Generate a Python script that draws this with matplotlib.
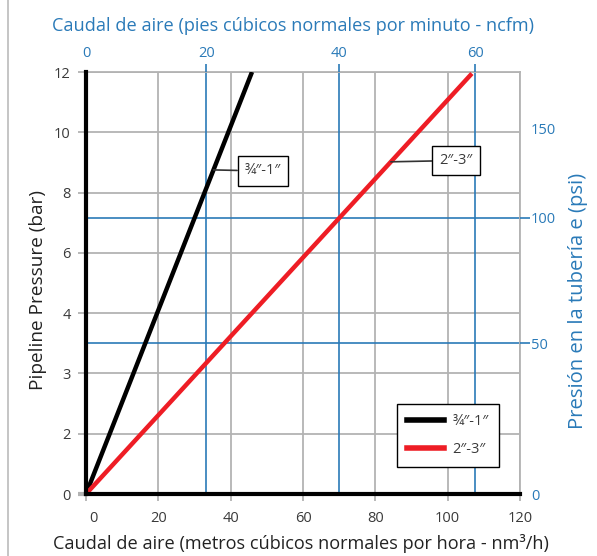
import numpy as np
import matplotlib
matplotlib.use("Agg")
import matplotlib.pyplot as plt
from matplotlib.lines import Line2D
from matplotlib.transforms import ScaledTranslation

plt.rcParams['font.family'] = ['Open Sans', 'DejaVu Sans']

# ---- data ----
series_names = ["\u00be\u2033-1\u2033", "2\u2033-3\u2033"]
flow_nm3h_black = [0, 45.9]      # m3/h
pressure_bar_black = [0, 12]
flow_nm3h_red = [0, 106.7]
pressure_bar_red = [0, 11.95]

bar_ticks = [0, 2, 3, 4, 6, 8, 10, 12]          # left axis labels (evenly spaced)
x_ticks = [0, 20, 40, 60, 80, 100, 120]
psi_labels = [0, 50, 100, 150]
psi_pos_bar = [0, 3.5, 7.16, 10.14]             # where psi ticks sit on bar axis
cfm_labels = [0, 20, 40, 60]
cfm_pos_nm3h = [0, 33.3, 70.0, 107.6]           # where cfm ticks sit on flow axis

BLUE = "#2a7ab8"
GREY = "#b3b3b3"
TXT = "#3a3a3a"
RED = "#ee1d25"

pos = np.arange(len(bar_ticks))
def fwd(v):
    return np.interp(v, bar_ticks, pos)
def inv(p):
    return np.interp(p, pos, bar_ticks)

W, H = 597, 556
fig = plt.figure(figsize=(W/100, H/100), dpi=100)
ax = fig.add_axes([86/W, 1-494/H, 434/W, 422/H])
ax.set_yscale('function', functions=(fwd, inv))
ax.set_xlim(0, 120)
ax.set_ylim(0, 12)

# grey grid
for xv in x_ticks[1:]:
    ax.axvline(xv, color=GREY, lw=1.3, zorder=1)
for yv in bar_ticks[1:]:
    ax.axhline(yv, color=GREY, lw=1.3, zorder=1)
# blue grid
for xv in cfm_pos_nm3h[1:]:
    ax.axvline(xv, color=BLUE, lw=1.2, zorder=1.5)
for yv in psi_pos_bar[1:3]:
    ax.axhline(yv, color=BLUE, lw=1.2, zorder=1.5)

ax.plot(flow_nm3h_black, pressure_bar_black, color='black', lw=3.2, zorder=3,
        solid_capstyle='butt')
ax.plot(flow_nm3h_red, pressure_bar_red, color=RED, lw=3.2, zorder=3,
        solid_capstyle='butt')

ax.set_xticks(x_ticks)
ax.set_xticklabels([str(v) for v in x_ticks])
ax.set_yticks(bar_ticks)
ax.set_yticklabels([str(v) for v in bar_ticks])
ax.tick_params(axis='y', length=6, width=1.3, color=GREY, labelsize=10.5,
               labelcolor=TXT, pad=5)
ax.tick_params(axis='x', length=5, width=1.3, color=GREY, labelsize=10.5,
               labelcolor=TXT, pad=7)
ax.yaxis.get_major_ticks()[0].tick1line.set_color('black')
ax.yaxis.get_major_ticks()[0].tick1line.set_markeredgewidth(3)
lab0 = ax.get_xticklabels()[0]
lab0.set_transform(lab0.get_transform() + ScaledTranslation(7/100, 0, fig.dpi_scale_trans))

for s in ['left', 'bottom']:
    ax.spines[s].set_color('black')
    ax.spines[s].set_linewidth(3)
for s in ['top', 'right']:
    ax.spines[s].set_color(GREY)
    ax.spines[s].set_linewidth(1.3)
ax.spines['left'].set_zorder(4)
ax.spines['bottom'].set_zorder(4)

ax.set_ylabel("Pipeline Pressure (bar)", fontsize=13.7, color='#222222')
ax.yaxis.set_label_coords((47-86)/434, (494-290)/422)
ax.set_xlabel("Caudal de aire (metros c\u00fabicos normales por hora - nm\u00b3/h)",
              fontsize=13.1, color='#222222')
ax.xaxis.set_label_coords((300.5-86)/434, -(534-494)/422)

# right psi axis
axr = ax.twinx()
axr.set_yscale('function', functions=(fwd, inv))
axr.set_ylim(0, 12)
axr.set_yticks(psi_pos_bar)
axr.set_yticklabels([str(v) for v in psi_labels])
axr.tick_params(axis='y', length=7, width=1.2, color=BLUE, labelcolor=BLUE,
                labelsize=10.5, pad=1)
for i in (0, 3):
    axr.yaxis.get_major_ticks()[i].tick2line.set_visible(False)
for s in axr.spines.values():
    s.set_visible(False)
axr.set_ylabel("Presi\u00f3n en la tuber\u00eda e (psi)", fontsize=14.6, color=BLUE)
axr.yaxis.set_label_coords((568-86)/434, (494-301)/422)

# top cfm axis
axt = ax.twiny()
axt.set_xlim(0, 120)
axt.set_xticks(cfm_pos_nm3h)
axt.set_xticklabels([str(v) for v in cfm_labels])
axt.tick_params(axis='x', length=6, width=1.2, color=BLUE, labelcolor=BLUE,
                labelsize=10.5, pad=2)
axt.xaxis.get_major_ticks()[0].tick2line.set_visible(False)
for s in axt.spines.values():
    s.set_visible(False)
axt.set_xlabel("Caudal de aire (pies c\u00fabicos normales por minuto - ncfm)",
               fontsize=13.1, color=BLUE)
axt.xaxis.set_label_coords((293.5-86)/434, (494-31)/422)

# annotations
fig.canvas.draw()
def along(xs, ys, f):
    p0 = ax.transData.transform((xs[0], ys[0]))
    p1 = ax.transData.transform((xs[1], ys[1]))
    return p0 + f*(p1 - p0)

pb = along(flow_nm3h_black, pressure_bar_black, 0.768)
pr = along(flow_nm3h_red, pressure_bar_red, 0.79)
for p, txt, tx, ty in [(pb, series_names[0], 263, 171), (pr, series_names[1], 456, 160.5)]:
    ax.annotate(txt, xy=(p[0], p[1]), xycoords='figure pixels',
                xytext=(tx, H - ty), textcoords='figure pixels',
                ha='center', va='center', fontsize=10.5, color=TXT,
                bbox=dict(boxstyle='square,pad=0.5', fc='white', ec='black', lw=1),
                arrowprops=dict(arrowstyle='-', color='#333333', lw=1.2,
                                shrinkA=0, shrinkB=0),
                zorder=6)

handles = [Line2D([], [], color='black', lw=4), Line2D([], [], color=RED, lw=4)]
leg = ax.legend(handles, series_names, loc='upper left',
                bbox_to_anchor=(397/W, 1-404/H), bbox_transform=fig.transFigure,
                fancybox=False, edgecolor='black', framealpha=1,
                fontsize=10.5, handlelength=2.5, handletextpad=0.6,
                labelspacing=0.85, borderpad=0.7, borderaxespad=0)
leg.get_frame().set_linewidth(1)
for t in leg.get_texts():
    t.set_color(TXT)
leg.set_zorder(7)

# left frame line
fig.add_artist(Line2D([8/W, 8/W], [0, 1], transform=fig.transFigure,
                      color='#bbbbbb', lw=1.2))

fig.savefig("out.png", dpi=100)
